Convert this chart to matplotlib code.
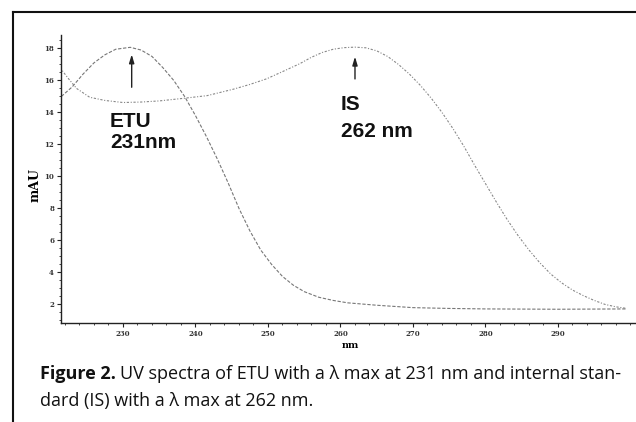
import matplotlib
matplotlib.use("Agg")
import matplotlib.pyplot as plt
from matplotlib.lines import Line2D
from matplotlib.ticker import MultipleLocator

# ETU spectrum (nm, mAU)
etu_nm = [221.5, 223, 224.5, 226, 227.5, 229, 231, 232.5, 234, 235.5, 237, 238.5, 240,
          241.5, 243, 244.5, 246, 247.5, 249, 250.5, 252, 253.5, 255, 257, 259, 261, 265,
          270, 275, 280, 290, 299.5]
etu_mau = [15.0, 15.6, 16.4, 17.1, 17.6, 17.95, 18.07, 17.9, 17.5, 16.8, 16.0, 15.0, 13.8,
           12.5, 11.1, 9.6, 8.0, 6.6, 5.4, 4.5, 3.75, 3.2, 2.8, 2.45, 2.25, 2.1, 1.95,
           1.8, 1.75, 1.72, 1.7, 1.72]

# internal standard spectrum
is_nm = [221.3, 222.5, 223.6, 225.4, 227.5, 230, 232.5, 235, 238.3, 241.6, 245.2, 247.5,
         249.8, 252, 254.4, 256, 257.5, 259, 260.5, 262, 263.5, 265, 266.5, 268, 269.5,
         271, 272.5, 274, 275.5, 277, 278.5, 280, 281.5, 283, 284.5, 286, 287.5, 289,
         290.5, 292, 293.5, 295, 296.5, 298, 299.5]
is_mau = [16.8, 16.1, 15.5, 14.95, 14.75, 14.62, 14.65, 14.72, 14.88, 15.05, 15.45, 15.75,
          16.1, 16.55, 17.05, 17.45, 17.75, 17.95, 18.05, 18.08, 18.04, 17.85, 17.5, 17.0,
          16.4, 15.7, 14.9, 14.0, 13.0, 11.9, 10.7, 9.55, 8.4, 7.3, 6.3, 5.4, 4.6, 3.9,
          3.35, 2.9, 2.55, 2.25, 2.0, 1.85, 1.75]

x_ticks = [230, 240, 250, 260, 270, 280, 290]
y_ticks = [2, 4, 6, 8, 10, 12, 14, 16, 18]

W, H = 636, 422
fig = plt.figure(figsize=(W / 100, H / 100), dpi=100)

# axes placed in pixel terms: y axis at x=61, x axis at y=323
ax = fig.add_axes([61 / W, (H - 323) / H, (W - 61) / W, 288 / H])
ax.set_xlim(221.45, 300.76)
ax.set_ylim(0.84, 18.84)

ax.plot(etu_nm, etu_mau, color="#777777", lw=0.8, ls=(0, (3, 1.5)))
ax.plot(is_nm, is_mau, color="#888888", lw=0.8, ls=(0, (2, 1.5, 1, 1.5)))

for s in ["top", "right"]:
    ax.spines[s].set_visible(False)
for s in ["left", "bottom"]:
    ax.spines[s].set_color("#222222")
    ax.spines[s].set_linewidth(1.0)

ax.set_xticks(x_ticks)
ax.set_yticks(y_ticks)
ax.xaxis.set_minor_locator(MultipleLocator(2))
ax.yaxis.set_minor_locator(MultipleLocator(0.5))
ax.tick_params(which="major", length=3, width=0.8, color="#222222", pad=2)
ax.tick_params(which="minor", length=1.5, width=0.7, color="#444444")
for lab in ax.get_xticklabels() + ax.get_yticklabels():
    lab.set_fontsize(5)
    lab.set_family("DejaVu Serif")
    lab.set_fontweight("bold")
    lab.set_color("#333333")

# peak labels
lab_font = dict(family="Liberation Sans", fontweight="bold", fontsize=15, color="#111111")
ax.text(228.2, 13.09, "ETU", va="baseline", ha="left", **lab_font)
ax.text(228.2, 11.78, "231nm", va="baseline", ha="left", **lab_font)
ax.text(260.07, 14.16, "IS", va="baseline", ha="left", **lab_font)
ax.text(260.07, 12.47, "262 nm", va="baseline", ha="left", **lab_font)

arrow = dict(arrowstyle="-|>,head_length=0.5,head_width=0.15", color="#222222", lw=1.0)
ax.annotate("", xy=(231.2, 17.8), xytext=(231.2, 15.4), arrowprops=arrow)
ax.annotate("", xy=(262.0, 17.66), xytext=(262.0, 15.92), arrowprops=arrow)

fig.text(35 / W, 1 - 185 / H, "mAU", rotation=90, ha="center", va="center",
         family="DejaVu Serif", fontweight="bold", fontsize=9)
fig.text(350 / W, 1 - 345 / H, "nm", ha="center", va="center",
         family="DejaVu Serif", fontweight="bold", fontsize=7)

# frame lines of the figure box
fig.add_artist(Line2D([13 / W, 13 / W], [1 - 12 / H, 0], transform=fig.transFigure,
                      color="#111111", lw=1.5))
fig.add_artist(Line2D([13 / W, 1], [1 - 12 / H, 1 - 12 / H], transform=fig.transFigure,
                      color="#111111", lw=1.5))

# caption, bold lead then regular text
cap_font = ["Open Sans", "DejaVu Sans"]
cap_size = 13
t1 = fig.text(40 / W, 1 - 379 / H, "Figure 2.", family=cap_font, fontweight="bold",
              fontsize=cap_size, va="baseline", color="#111111")
fig.canvas.draw()
bb = t1.get_window_extent()
fig.text((bb.x1 + 4) / W, 1 - 379 / H,
         "UV spectra of ETU with a \u03bb max at 231 nm and internal stan-",
         family=cap_font, fontsize=cap_size, va="baseline", color="#111111")
fig.text(40 / W, 1 - 406 / H, "dard (IS) with a \u03bb max at 262 nm.",
         family=cap_font, fontsize=cap_size, va="baseline", color="#111111")

fig.savefig("out.png", dpi=100)
